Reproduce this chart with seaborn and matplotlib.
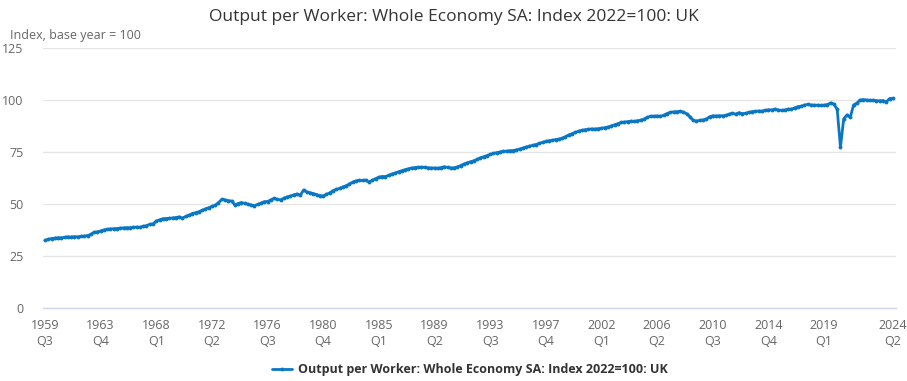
import pandas as pd
import seaborn as sns
import matplotlib.pyplot as plt

sns.set_style('white')
plt.rcParams['font.family'] = ['Open Sans', 'DejaVu Sans']

# quarterly series, 1959 Q3 .. 2024 Q2
values = [
    32.5, 33.0,                  # 1959 Q3-Q4
    33.4, 33.6, 33.8, 33.7,      # 1960
    34.0, 34.2, 34.1, 34.3,      # 1961
    34.2, 34.4, 34.6, 34.8,      # 1962
    35.4, 36.4, 36.6, 37.0,      # 1963
    37.5, 37.8, 38.0, 38.1,      # 1964
    38.2, 38.4, 38.5, 38.6,      # 1965
    38.6, 38.8, 38.9, 38.8,      # 1966
    39.2, 39.6, 40.2, 40.4,      # 1967
    41.8, 42.4, 42.9, 43.0,      # 1968
    43.1, 43.3, 43.5, 43.8,      # 1969
    43.2, 44.0, 44.6, 45.4,      # 1970
    45.8, 46.3, 46.9, 47.6,      # 1971
    48.2, 48.8, 49.4, 50.6,      # 1972
    52.2, 52.0, 51.6, 51.4,      # 1973
    49.6, 50.2, 50.7, 50.3,      # 1974
    49.9, 49.5, 49.2, 49.8,      # 1975
    50.4, 51.1, 51.2, 52.0,      # 1976
    52.7, 52.2, 52.0, 52.8,      # 1977
    53.4, 53.8, 54.4, 54.8,      # 1978
    54.2, 56.7, 55.8, 55.4,      # 1979
    55.0, 54.5, 54.0, 53.9,      # 1980
    54.6, 55.4, 56.4, 57.0,      # 1981
    57.5, 58.2, 58.8, 59.6,      # 1982
    60.5, 61.1, 61.4, 61.3,      # 1983
    61.5, 60.5, 61.4, 62.2,      # 1984
    62.9, 63.2, 63.2, 63.8,      # 1985
    64.4, 64.9, 65.5, 66.0,      # 1986
    66.5, 66.9, 67.3, 67.5,      # 1987
    67.6, 67.7, 67.6, 67.4,      # 1988
    67.3, 67.3, 67.2, 67.5,      # 1989
    67.9, 67.6, 67.3, 67.4,      # 1990
    67.8, 68.5, 69.2, 69.8,      # 1991
    70.3, 70.8, 71.4, 72.2,      # 1992
    72.7, 73.3, 73.8, 74.3,      # 1993
    74.7, 75.0, 75.3, 75.4,      # 1994
    75.6, 75.7, 76.0, 76.4,      # 1995
    76.9, 77.4, 77.8, 78.2,      # 1996
    78.6, 79.1, 79.6, 80.1,      # 1997
    80.4, 80.6, 81.0, 81.2,      # 1998
    81.6, 82.4, 83.2, 83.8,      # 1999
    84.4, 85.0, 85.4, 85.7,      # 2000
    85.9, 86.1, 86.0, 86.2,      # 2001
    86.4, 86.7, 87.0, 87.5,      # 2002
    88.1, 88.6, 89.2, 89.4,      # 2003
    89.6, 89.8, 89.7, 90.0,      # 2004
    90.3, 90.8, 91.6, 92.2,      # 2005
    92.2, 92.3, 92.2, 92.6,      # 2006
    93.5, 94.0, 94.3, 94.4,      # 2007
    94.5, 94.2, 93.4, 92.0,      # 2008
    90.2, 89.9, 90.2, 90.4,      # 2009
    90.8, 91.9, 92.4, 92.3,      # 2010
    92.4, 92.4, 92.6, 93.2,      # 2011
    93.6, 93.2, 93.9, 93.4,      # 2012
    93.6, 94.0, 94.4, 94.5,      # 2013
    94.7, 94.6, 95.0, 95.3,      # 2014
    95.2, 95.6, 95.2, 95.0,      # 2015
    95.2, 95.6, 95.6, 96.2,      # 2016
    96.8, 97.0, 97.5, 97.9,      # 2017
    97.6, 97.5, 97.5, 97.4,      # 2018
    97.5, 97.8, 98.6, 98.0,      # 2019
    95.5, 77.3, 91.0, 92.8,      # 2020
    91.7, 97.6, 98.5, 100.0,     # 2021
    100.2, 100.0, 99.8, 99.9,    # 2022
    99.7, 99.6, 99.7, 99.1,      # 2023
    100.7, 100.8,                # 2024 Q1-Q2
]

tick_pos = [0, 17, 34, 51, 68, 85, 102, 119, 136, 153, 170, 187, 204, 221, 238, 259]
tick_labels = ['1959\nQ3', '1963\nQ4', '1968\nQ1', '1972\nQ2', '1976\nQ3', '1980\nQ4',
               '1985\nQ1', '1989\nQ2', '1993\nQ3', '1997\nQ4', '2002\nQ1', '2006\nQ2',
               '2010\nQ3', '2014\nQ4', '2019\nQ1', '2024\nQ2']
y_ticks = [0, 25, 50, 75, 100, 125]

series_name = 'Output per Worker: Whole Economy SA: Index 2022=100: UK'
df = pd.DataFrame({'t': range(len(values)), 'value': values})

fig = plt.figure(figsize=(9.07, 3.81), dpi=100)
ax = fig.add_axes([0.0474, 0.1916, 0.9406, 0.6824])

sns.lineplot(data=df, x='t', y='value', ax=ax, color='#0a77c4', linewidth=2.0,
             marker='o', markersize=2.8, markeredgewidth=0, label=series_name)

ax.set_xlim(-0.6, 260)
ax.set_ylim(0, 125)
ax.set_yticks(y_ticks)
ax.set_xticks(tick_pos)
ax.set_xticklabels(tick_labels)
ax.set_xlabel('')
ax.set_ylabel('')

ax.grid(axis='y', color='#e6e6e6', linewidth=1)
ax.set_axisbelow(True)
for side in ['top', 'right', 'left']:
    ax.spines[side].set_visible(False)
ax.spines['bottom'].set_color('#ccd6eb')
ax.spines['bottom'].set_linewidth(1)

ax.tick_params(axis='x', colors='#ccd6eb', length=7, width=1, labelcolor='#666666',
               labelsize=9, pad=1)
ax.tick_params(axis='y', length=0, labelcolor='#666666', labelsize=9, pad=14)
for lbl in ax.get_xticklabels():
    lbl.set_linespacing(1.3)

fig.text(0.5, 0.955, series_name, ha='center', va='center', fontsize=12.5, color='#333333')
fig.text(0.011, 0.908, 'Index, base year = 100', ha='left', va='center', fontsize=9,
         color='#666666')

leg = ax.legend(loc='center', bbox_to_anchor=(0.5, -0.238), frameon=False, fontsize=9,
                handlelength=1.6, handletextpad=0.5)
for txt in leg.get_texts():
    txt.set_fontweight('bold')
    txt.set_color('#333333')

fig.savefig('out.png', dpi=100)
